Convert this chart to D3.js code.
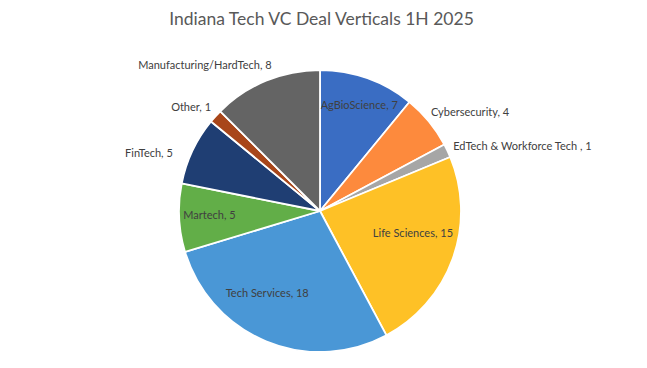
<!DOCTYPE html>
<html>
<head>
<meta charset="utf-8">
<script src="https://cdn.jsdelivr.net/npm/d3@7"></script>
<style>
  body { margin: 0; background: #fff; }
  text { font-family: Lato, "Open Sans", sans-serif; }
</style>
</head>
<body>
<svg id="chart" width="647" height="368"></svg>
<script>
// chart data
var verticals = ['AgBioScience', 'Cybersecurity', 'EdTech & Workforce Tech ', 'Life Sciences',
                 'Tech Services', 'Martech', 'FinTech', 'Other', 'Manufacturing/HardTech']
var deals = [7, 4, 1, 15, 18, 5, 5, 1, 8]
var colors = ['#3a6dc3', '#fd8a3d', '#a6a6a6', '#fec126', '#4a97d6', '#62ae48', '#1f3e73', '#a8461a', '#646464']
var insideLabels = ['AgBioScience', 'Life Sciences', 'Tech Services', 'Martech']
var title = 'Indiana Tech VC Deal Verticals 1H 2025'

;(function(){
  var svg = d3.select('#chart'),
      width = +svg.attr('width'),
      height = +svg.attr('height')

  var cx = 320, cy = 211, radius = 141

  svg.append('text')
    .attr('x', width / 2 - 2)
    .attr('y', 25)
    .attr('text-anchor', 'middle')
    .attr('font-size', '17.5px')
    .attr('fill', '#595959')
    .text(title)

  var rows = verticals.map((v, i) => ({ name: v, value: deals[i], color: colors[i] }))

  var pie = d3.pie().sort(null).value(d => d.value)
  var arcs = pie(rows)

  var arc = d3.arc().innerRadius(0).outerRadius(radius)

  var g = svg.append('g').attr('transform', 'translate(' + cx + ',' + cy + ')')

  g.selectAll('path')
    .data(arcs).enter()
    .append('path')
    .attr('d', arc)
    .attr('fill', d => d.data.color)
    .attr('stroke', '#fff')
    .attr('stroke-width', 1.8)
    .attr('stroke-linejoin', 'round')

  // label arcs: inside ones near the middle, outside ones just past the rim
  var inArc = d3.arc().innerRadius(radius * 0.7).outerRadius(radius * 0.7)
  var outArc = d3.arc().innerRadius(radius * 1.1).outerRadius(radius * 1.1)

  // small nudges where excel shuffled labels around
  var nudge = {
    'AgBioScience': [6, -13], 'Life Sciences': [0, -11], 'Tech Services': [-15, -9], 'Martech': [-12, -1],
    'Cybersecurity': [-9, 0], 'EdTech & Workforce Tech ': [-7, 1],
    'FinTech': [-7, 8], 'Other': [6, 0], 'Manufacturing/HardTech': [11, -3]
  }

  g.selectAll('text.lbl')
    .data(arcs).enter()
    .append('text').attr('class', 'lbl')
    .attr('font-size', '11px')
    .attr('fill', '#404040')
    .attr('dy', '0.35em')
    .attr('text-anchor', function(d) {
      if (insideLabels.includes(d.data.name)) return 'middle'
      return (d.startAngle + d.endAngle) / 2 < Math.PI ? 'start' : 'end'
    })
    .attr('transform', function(d) {
      var p = insideLabels.includes(d.data.name) ? inArc.centroid(d) : outArc.centroid(d)
      var n = nudge[d.data.name] || [0, 0]
      return 'translate(' + (p[0] + n[0]) + ',' + (p[1] + n[1]) + ')'
    })
    .text(d => d.data.name + ', ' + d.data.value)
})()
</script>
</body>
</html>
